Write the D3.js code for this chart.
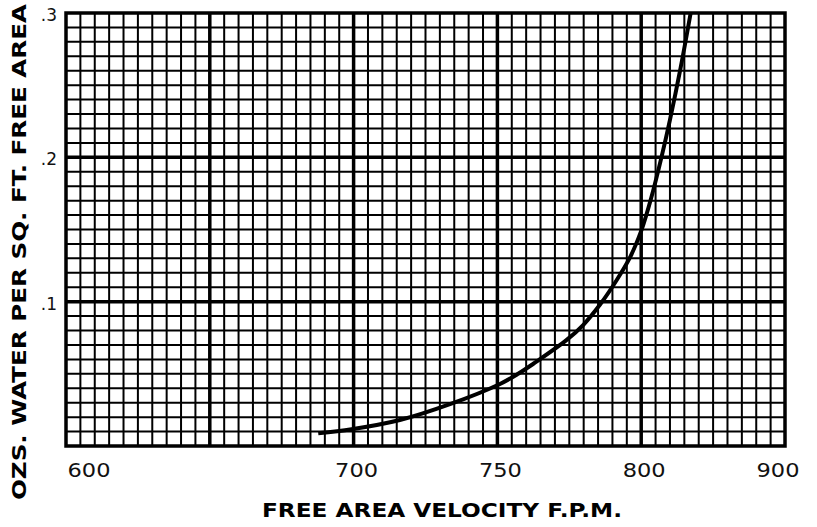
<!DOCTYPE html>
<html>
<head>
<meta charset="utf-8">
<script src="https://cdn.jsdelivr.net/npm/d3@7"></script>
<style>
  body { margin: 0; background: #fff; }
  svg { display: block; }
  .tick-label { font-family: "DejaVu Sans", sans-serif; fill: #111; }
  .title { font-family: "DejaVu Sans", sans-serif; font-weight: bold; fill: #000; }
</style>
</head>
<body>
<div class="chart"></div>
<script>
// chart values
var velocity = [687.7, 699.3, 716.1, 733.5, 750.9, 757.2, 762.5, 774.1, 779.9, 785.7, 791.5, 796.2, 800.0, 803.5, 807.1, 810.0, 813.7, 817.2];
var water = [0.0088, 0.0116, 0.018, 0.029, 0.043, 0.050, 0.057, 0.0735, 0.084, 0.098, 0.115, 0.131, 0.149, 0.172, 0.2005, 0.226, 0.262, 0.300];

// tick labels (the chart labels the last major line "900")
var xTickValues = [600, 650, 700, 750, 800, 850];
var xTickLabels = ["600", "", "700", "750", "800", "900"];
var yTickValues = [0.1, 0.2, 0.3];
var yTickLabels = [".1", ".2", ".3"];

var svgWidth = 817;
var svgHeight = 527;

var margin = { top: 13, right: 32, bottom: 81, left: 66 };
var width = svgWidth - margin.left - margin.right;
var height = svgHeight - margin.top - margin.bottom;

var svg = d3.select(".chart")
  .append("svg")
  .attr("width", svgWidth)
  .attr("height", svgHeight);

var chartGroup = svg.append("g")
  .attr("transform", `translate(${margin.left}, ${margin.top})`);

var xScale = d3.scaleLinear().domain([600, 850]).range([0, width]);
var yScale = d3.scaleLinear().domain([0, 0.3]).range([height, 0]);

// minor grid, every 5 fpm and every .01
var minorX = d3.range(605, 850, 5).filter(v => v % 50 !== 0);
var minorY = d3.range(1, 30).filter(v => v % 10 !== 0).map(v => v / 100);

chartGroup.append("g")
  .selectAll("line")
  .data(minorX)
  .enter()
  .append("line")
  .attr("x1", d => xScale(d)).attr("x2", d => xScale(d))
  .attr("y1", 0).attr("y2", height)
  .attr("stroke", "#000").attr("stroke-width", 2);

chartGroup.append("g")
  .selectAll("line")
  .data(minorY)
  .enter()
  .append("line")
  .attr("y1", d => yScale(d)).attr("y2", d => yScale(d))
  .attr("x1", 0).attr("x2", width)
  .attr("stroke", "#000").attr("stroke-width", 2);

// major grid
chartGroup.append("g")
  .selectAll("line")
  .data([650, 700, 750, 800])
  .enter()
  .append("line")
  .attr("x1", d => xScale(d)).attr("x2", d => xScale(d))
  .attr("y1", 0).attr("y2", height)
  .attr("stroke", "#000").attr("stroke-width", 3.5);

chartGroup.append("g")
  .selectAll("line")
  .data([0.1, 0.2])
  .enter()
  .append("line")
  .attr("y1", d => yScale(d)).attr("y2", d => yScale(d))
  .attr("x1", 0).attr("x2", width)
  .attr("stroke", "#000").attr("stroke-width", 3.5);

// frame
chartGroup.append("rect")
  .attr("x", 0).attr("y", 0)
  .attr("width", width).attr("height", height)
  .attr("fill", "none")
  .attr("stroke", "#000")
  .attr("stroke-width", 3.5);

// curve
var line = d3.line()
  .x((d, i) => xScale(velocity[i]))
  .y(d => yScale(d))
  .curve(d3.curveCatmullRom.alpha(0.5));

chartGroup.append("path")
  .datum(water)
  .attr("d", line)
  .attr("fill", "none")
  .attr("stroke", "#000")
  .attr("stroke-width", 4)
  .attr("stroke-linecap", "butt");

// x tick labels
chartGroup.append("g")
  .selectAll("text")
  .data(xTickValues)
  .enter()
  .append("text")
  .classed("tick-label", true)
  .attr("x", d => xScale(d))
  .attr("dx", (d, i) => i === 0 ? 23 : (i === xTickValues.length - 1 ? -7 : 3))
  .attr("y", height + 31)
  .attr("text-anchor", "middle")
  .style("font-size", "20px")
  .attr("textLength", (d, i) => xTickLabels[i] ? 43 : null)
  .attr("lengthAdjust", "spacingAndGlyphs")
  .text((d, i) => xTickLabels[i]);

// y tick labels
chartGroup.append("g")
  .selectAll("text")
  .data(yTickValues)
  .enter()
  .append("text")
  .classed("tick-label", true)
  .attr("x", -9)
  .attr("y", d => yScale(d) + 8)
  .attr("text-anchor", "end")
  .style("font-size", "17px")
  .text((d, i) => yTickLabels[i]);

// axis titles
svg.append("text")
  .classed("title", true)
  .attr("x", 442)
  .attr("y", 517)
  .attr("text-anchor", "middle")
  .style("font-size", "20px")
  .attr("textLength", 360)
  .attr("lengthAdjust", "spacingAndGlyphs")
  .text("FREE AREA VELOCITY F.P.M.");

svg.append("text")
  .classed("title", true)
  .attr("transform", "translate(26, 252) rotate(-90)")
  .attr("text-anchor", "middle")
  .style("font-size", "20px")
  .attr("textLength", 496)
  .attr("lengthAdjust", "spacingAndGlyphs")
  .text("OZS. WATER PER SQ. FT. FREE AREA");
</script>
</body>
</html>
